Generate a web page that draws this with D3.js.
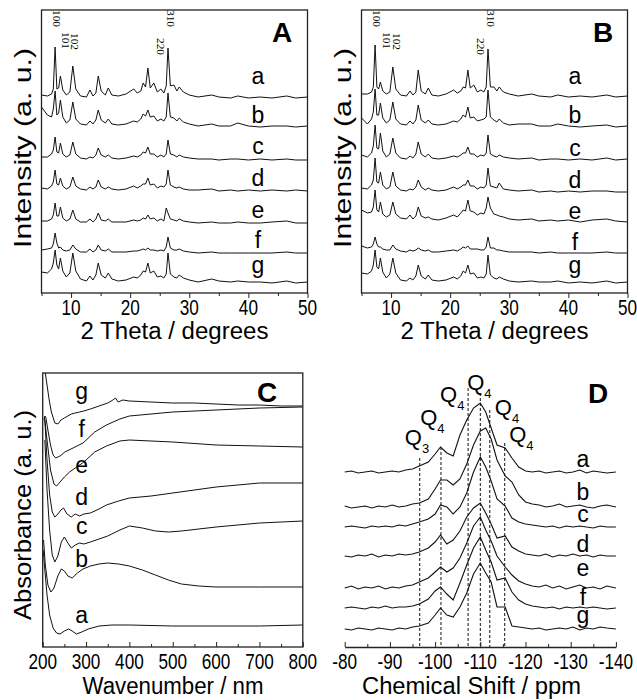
<!DOCTYPE html>
<html>
<head>
<meta charset="utf-8">
<script src="https://cdn.jsdelivr.net/npm/d3@7"></script>
<style>
  body { margin: 0; background: #fff; }
  svg { display: block; }
</style>
</head>
<body>
<svg id="fig" width="637" height="700"></svg>
<script>
// ---------- data ----------
const sampleNames = ["a", "b", "c", "d", "e", "f", "g"];

// XRD, 2 theta grid (degrees) and intensities above each trace's baseline (a.u.)
const twoTheta = [5, 6, 6.7, 7.0, 7.3, 7.6, 7.9, 8.2, 8.6, 9.2, 9.8, 10.3, 10.8, 11.6, 12.6,
  13.2, 13.7, 14.2, 14.6, 15.1, 15.8, 16.3, 16.9, 18, 19.3, 20.6, 21.2, 21.8, 22.2, 22.6,
  23.0, 23.4, 24.0, 24.6, 25.2, 25.7, 26.1, 26.4, 26.8, 27.4, 27.9, 28.3, 29, 30, 31.5,
  33.8, 35, 37, 38.2, 40, 42, 44, 46.5, 48, 50];

const xrdA = [
  [3,2,4,9,51, 9,10,22,8,3, 6,32,9,2,1, 8,2,5,22,7, 3,10,3,2,4, 9,5,7,15,11, 30,10,15,6,9, 5,12,50,12,13, 7,11,6,3,1, 3,1,0,2,0, 1,0,2,0,1],
  [20,12,10,18,36, 12,14,27,10,4, 7,25,8,3,2, 6,3,7,17,7, 4,8,3,2,3, 6,5,8,13,11, 17,10,11,6,8, 6,10,34,10,9, 6,9,5,3,1, 3,1,1,4,1, 0,1,1,0,1],
  [3,3,6,10,23, 8,7,17,6,3, 5,18,6,2,1, 3,2,5,12,5, 3,5,2,1,2, 4,3,5,8,7, 13,6,6,3,5, 3,6,20,6,5, 3,5,3,2,1, 1,0,1,1,0, 1,0,1,0,0],
  [3,2,5,9,21, 7,6,13,5,2, 4,14,5,2,1, 4,2,4,11,4, 2,4,2,1,2, 5,3,5,7,7, 13,6,7,3,5, 4,7,21,6,4, 3,4,2,1,1, 2,0,1,0,1, 0,1,0,1,0],
  [2,2,4,8,20, 7,7,16,5,2, 4,13,4,1,1, 4,1,4,10,3, 2,4,1,1,1, 3,2,3,5,4, 8,4,5,2,4, 2,15,10,4,3, 2,4,2,1,0, 1,0,0,1,0, 0,1,2,0,0],
  [3,4,5,9,20, 10,5,6,3,2, 3,8,4,1,1, 4,1,3,8,3, 2,4,1,1,1, 2,2,3,4,3, 5,3,3,2,3, 2,6,16,5,3, 3,4,2,1,0, 1,0,0,0,0, 0,0,1,0,0],
  [11,10,14,20,33, 18,14,25,12,6, 10,30,12,4,2, 7,3,8,20,8, 5,10,4,2,3, 6,5,8,12,11, 20,10,12,6,7, 5,9,30,9,6, 5,8,5,3,1, 4,2,1,2,1, 1,0,2,0,1]
];
const xrdAOffsets = [195, 166, 133, 102, 70, 40, 10];

const xrdB = [
  [3,3,5,10,52, 10,8,15,6,3, 5,30,8,2,1, 6,2,5,27,6, 3,9,2,1,3, 7,4,6,10,9, 27,9,12,5,7, 5,10,48,10,10, 6,10,5,3,1, 3,1,0,2,0, 1,0,2,0,1],
  [9,3,8,15,38, 12,12,24,9,4, 7,25,8,3,2, 6,3,7,22,7, 4,7,3,2,3, 6,5,8,12,10, 20,9,10,6,7, 8,10,37,10,7, 5,8,4,2,3, 3,1,1,3,1, 0,1,2,0,1],
  [5,3,7,14,35, 12,11,27,9,3, 6,22,7,2,1, 4,2,6,18,6, 3,6,2,1,2, 4,3,5,7,7, 13,6,6,3,5, 4,7,25,6,4, 3,5,3,2,1, 2,0,1,1,0, 1,0,2,0,1],
  [4,3,7,12,34, 10,9,20,7,3, 5,20,6,2,1, 3,2,5,12,5, 2,4,2,1,2, 5,3,5,7,7, 12,6,6,3,5, 4,7,24,6,5, 4,9,3,2,1, 2,0,1,0,1, 0,1,1,0,0],
  [12,9,10,15,32, 12,10,20,8,5, 7,20,8,4,3, 7,3,6,15,6, 4,5,3,2,4, 7,5,9,12,11, 22,11,10,7,9, 8,14,25,14,8, 7,6,5,3,2, 3,1,2,1,2, 0,2,3,1,0],
  [7,5,6,9,16, 9,6,6,4,3, 3,8,4,2,1, 3,2,3,5,3, 2,3,1,1,2, 3,2,4,6,5, 7,4,4,4,3, 3,6,16,5,5, 3,3,2,1,1, 1,0,1,0,0, 0,0,1,0,0],
  [10,9,12,18,33, 16,14,25,11,5, 9,25,10,3,2, 5,3,7,18,7, 4,8,3,2,3, 6,4,7,12,10, 18,9,10,5,6, 5,9,28,8,5, 4,6,4,2,1, 2,1,1,2,0, 1,0,2,0,1]
];
const xrdBOffsets = [196, 166, 133, 101, 71, 40, 10];

// reflection labels: [text, 2theta, intensity of label top]
const peaksA = [["100", 7.5, 283], ["101", 9.0, 261], ["102", 10.5, 260], ["220", 25.1, 255], ["310", 26.9, 283]];
const peaksB = [["100", 7.6, 283], ["101", 9.3, 261], ["102", 11.0, 260], ["220", 25.2, 255], ["310", 26.8, 283]];

// UV-vis, [wavelength nm, absorbance a.u.] for a..g
const uvC = [
  [[201,0.95],[205,0.75],[210,0.50],[216,0.30],[224,0.17],[232,0.12],[240,0.11],[250,0.14],[260,0.16],[268,0.14],[278,0.11],[290,0.13],[305,0.16],[330,0.19],[360,0.20],[400,0.20],[500,0.19],[600,0.19],[700,0.19],[800,0.20]],
  [[202,1.05],[206,0.80],[212,0.60],[219,0.53],[226,0.57],[235,0.69],[243,0.76],[250,0.74],[258,0.69],[268,0.67],[280,0.72],[293,0.76],[310,0.79],[330,0.81],[350,0.82],[375,0.81],[400,0.79],[430,0.75],[460,0.70],[490,0.65],[520,0.61],[560,0.59],[600,0.58],[700,0.58],[800,0.58]],
  [[205,2.05],[210,1.55],[216,1.15],[222,0.90],[228,0.83],[235,0.89],[243,1.03],[250,1.08],[258,1.02],[266,0.97],[275,1.00],[285,1.02],[295,1.01],[310,1.03],[330,1.06],[350,1.09],[378,1.15],[400,1.19],[430,1.17],[460,1.14],[490,1.13],[520,1.14],[560,1.16],[600,1.18],[650,1.20],[700,1.22],[750,1.23],[800,1.24]],
  [[205,2.25],[210,1.85],[216,1.50],[222,1.33],[228,1.28],[235,1.31],[242,1.35],[248,1.37],[256,1.31],[266,1.28],[275,1.31],[285,1.29],[295,1.31],[310,1.32],[330,1.36],[347,1.40],[375,1.44],[400,1.47],[450,1.49],[500,1.52],[550,1.55],[600,1.58],[650,1.60],[700,1.62],[750,1.62],[800,1.62]],
  [[204,2.28],[210,2.05],[218,1.75],[226,1.61],[232,1.59],[240,1.63],[250,1.68],[262,1.73],[275,1.77],[285,1.80],[292,1.82],[300,1.85],[320,1.93],[347,1.99],[378,2.04],[400,2.05],[450,2.04],[500,2.03],[600,2.00],[700,1.99],[800,1.98]],
  [[203,2.25],[205,2.29],[207,2.28],[212,2.15],[218,2.00],[224,1.90],[230,1.87],[240,1.89],[251,1.93],[270,1.97],[293,2.02],[320,2.13],[347,2.20],[378,2.26],[400,2.29],[450,2.31],[500,2.33],[600,2.35],[700,2.37],[800,2.38]],
  [[203,3.00],[206,2.72],[210,2.60],[215,2.45],[220,2.33],[228,2.22],[235,2.21],[242,2.25],[250,2.27],[258,2.29],[266,2.31],[275,2.32],[285,2.33],[295,2.34],[310,2.36],[330,2.39],[350,2.42],[362,2.45],[368,2.47],[374,2.43],[385,2.45],[400,2.44],[450,2.43],[500,2.42],[550,2.42],[600,2.41],[650,2.40],[700,2.40],[750,2.39],[800,2.39]]
];

// 29Si NMR, chemical shift grid (ppm) and intensities above baseline (a.u.)
const shiftPpm = [-80, -81.5, -83, -84.5, -86, -87.5, -89, -90.5, -92, -93.5, -95,
  -96.5, -98.5, -100, -101.2, -102.6, -104, -105.5, -107, -108.5, -110, -111.2, -112.4, -113.7, -115.5, -117, -118.5, -120,
  -121.5, -123, -124.5, -126, -127.5, -129, -130.5, -132, -133.5, -135, -136.5, -138, -140];
const nmrD = [
  [0,1,-1,0,1,-1,0,1,0,2,3, 6,10,18,25,19,16,37,52,64,69,60,44,27,24,14,5,1, 0,1,-1,0,1,-1,0,2,-1,1,0,-1,0],
  [1,-1,0,1,-1,1,0,2,0,1,3, 4,8,18,27,27,22,28,43,62,76,79,68,47,31,25,12,5, 3,2,0,1,3,0,1,2,0,-1,1,2,0],
  [0,1,0,-1,1,0,1,0,2,1,3, 5,8,13,22,20,13,20,34,55,70,60,46,28,21,9,5,3, 2,1,0,1,-1,1,0,1,0,-1,1,0,0],
  [0,-1,1,0,2,-1,1,0,2,1,2, 4,8,14,21,12,16,25,39,48,53,43,32,18,20,9,5,2, 1,0,2,-1,1,0,2,0,1,-1,1,0,0],
  [0,2,-1,1,0,2,-1,1,0,2,3, 6,10,16,21,16,20,30,45,62,71,58,47,32,21,13,7,4, 2,1,3,0,2,-1,1,3,0,1,-1,2,0],
  [0,1,0,-1,1,0,2,0,1,1,2, 4,9,17,21,14,8,25,43,60,71,58,46,28,30,16,8,4, 2,1,0,1,-1,1,0,1,0,1,0,-1,0],
  [0,-1,1,0,-1,1,0,-1,1,0,2, 3,6,14,21,14,12,22,36,55,66,56,47,22,22,3,2,1, 0,1,-1,0,1,0,2,-1,1,0,2,1,0]
];
const nmrOffsets = [175, 140, 120, 91, 59, 39, 18];

// dashed guide lines: [ppm, top intensity]
const guideLines = [[-96.6, 189], [-101.3, 200], [-107.3, 259], [-110, 254], [-112.1, 237], [-115.4, 204]];
// Q labels: [subscript, ppm of left edge, intensity of baseline]
const qLabels = [["3", -93.3, 202], ["4", -96.7, 222], ["4", -101.1, 245], ["4", -107.1, 257], ["4", -113.2, 232], ["4", -116.4, 205]];

// ---------- drawing ----------
const SANS = '"Liberation Sans", Arial, sans-serif';
const SERIF = '"Liberation Serif", "Times New Roman", serif';
const svg = d3.select("#fig");

function put(g, x, y, str, size, opt = {}) {
  let tf = `translate(${x},${y})`;
  if (opt.rot) tf += ` rotate(${opt.rot})`;
  if (opt.sx) tf += ` scale(${opt.sx},1)`;
  const t = g.append("text")
    .attr("transform", tf)
    .attr("font-size", size)
    .attr("font-family", opt.family || SANS)
    .attr("font-weight", opt.bold ? "bold" : null)
    .attr("text-anchor", opt.anchor || "middle")
    .attr("fill", "#000")
    .text(str);
  if (opt.len) t.attr("textLength", opt.len).attr("lengthAdjust", "spacingAndGlyphs");
  if (opt.dy) t.attr("dy", opt.dy);
  return t;
}

function ticks(g, scale, y, major, minor, dir) {
  g.append("g").attr("transform", `translate(0,${y})`)
    .call(d3.axisBottom(scale).tickValues(major).tickSize(5 * dir).tickFormat(""))
    .call(a => a.select(".domain").remove());
  g.append("g").attr("transform", `translate(0,${y})`)
    .call(d3.axisBottom(scale).tickValues(minor).tickSize(3 * dir).tickFormat(""))
    .call(a => a.select(".domain").remove());
  g.selectAll(".tick line").attr("stroke", "#222");
}

function xrdPanel(p) {
  const g = svg.append("g");
  const x = d3.scaleLinear().domain([5, 50]).range([p.left, p.right]);
  const y = d3.scaleLinear().domain([0, 283]).range([p.bottom, p.top]);
  const line = d3.line().x((d, i) => x(twoTheta[i])).y(d => y(d));

  p.curves.forEach((c, i) => {
    g.append("path")
      .attr("d", line(c.map(v => v + p.offsets[i])))
      .attr("fill", "none").attr("stroke", "#111").attr("stroke-width", 1);
  });

  g.append("rect")
    .attr("x", p.left).attr("y", p.top)
    .attr("width", p.right - p.left).attr("height", p.bottom - p.top)
    .attr("fill", "none").attr("stroke", "#222").attr("stroke-width", 1.3);

  ticks(g, x, p.bottom, [10, 20, 30, 40, 50], [5, 15, 25, 35, 45], 1);
  [10, 20, 30, 40, 50].forEach(v => put(g, x(v), 315, v, 22, { sx: 0.78 }));

  p.peaks.forEach(([t, px, py]) =>
    put(g, x(px), y(py), t, 10, { rot: 90, anchor: "start", family: SERIF, dy: "0.35em", len: 17 }));

  sampleNames.forEach((s, i) => put(g, p.labelX, p.labelY[i], s, 23));
  put(g, p.letterX, 42, p.letter, 28, { bold: true });

  const midX = (p.left + p.right) / 2;
  put(g, midX - 94, 339, "2 Theta / degrees", 23, { anchor: "start", len: 188 });
  put(g, p.left - 11, 248, "Intensity (a. u.)", 24, { rot: -90, anchor: "start", len: 200 });
}

xrdPanel({
  left: 41.5, right: 307.5, top: 10, bottom: 293,
  curves: xrdA, offsets: xrdAOffsets, peaks: peaksA,
  labelX: 258, labelY: [84, 123, 154, 186, 218, 248, 273],
  letter: "A", letterX: 282
});
xrdPanel({
  left: 361.5, right: 627.5, top: 10, bottom: 293,
  curves: xrdB, offsets: xrdBOffsets, peaks: peaksB,
  labelX: 575, labelY: [84, 123, 156, 188, 219, 250, 273],
  letter: "B", letterX: 603
});

// ---- panel C: UV-vis ----
(function () {
  const left = 42.7, right = 302.8, top = 373, bottom = 647;
  const g = svg.append("g");
  const x = d3.scaleLinear().domain([200, 800]).range([left, right]);
  const y = d3.scaleLinear().domain([-0.02, 2.72]).range([bottom, top]);
  const line = d3.line().x(d => x(d[0])).y(d => y(d[1]));

  svg.append("clipPath").attr("id", "clipC")
    .append("rect").attr("x", left).attr("y", top).attr("width", right - left).attr("height", bottom - top);

  g.append("g").attr("clip-path", "url(#clipC)")
    .selectAll("path").data(uvC).join("path")
    .attr("d", line)
    .attr("fill", "none").attr("stroke", "#111").attr("stroke-width", 1);

  g.append("rect")
    .attr("x", left).attr("y", top).attr("width", right - left).attr("height", bottom - top)
    .attr("fill", "none").attr("stroke", "#222").attr("stroke-width", 1.3);

  const major = d3.range(200, 801, 100);
  ticks(g, x, bottom, major, d3.range(250, 800, 100), -1);
  major.forEach(v => put(g, x(v), 669, v, 22, { sx: 0.78 }));

  const labelY = [622.7, 566.7, 534.3, 505, 472.7, 436.7, 398.6];
  sampleNames.forEach((s, i) => put(g, 81.7, labelY[i], s, 23));
  put(g, 267, 402, "C", 28, { bold: true });

  put(g, 173 - 90.5, 694, "Wavenumber / nm", 23, { anchor: "start", len: 181 });
  put(g, 31, 620, "Absorbance (a. u.)", 24, { rot: -90, anchor: "start", len: 210 });
})();

// ---- panel D: 29Si NMR ----
(function () {
  const left = 344.7, right = 615.9, axisY = 647;
  const g = svg.append("g");
  const x = d3.scaleLinear().domain([-80, -140]).range([left, right]);
  const y = d3.scaleLinear().domain([0, 270]).range([axisY, axisY - 270]);
  const line = d3.line().x((d, i) => x(shiftPpm[i])).y(d => y(d));

  guideLines.forEach(([ppm, topV]) => {
    g.append("line")
      .attr("x1", x(ppm)).attr("x2", x(ppm))
      .attr("y1", y(topV)).attr("y2", y(0))
      .attr("stroke", "#111").attr("stroke-width", 1).attr("stroke-dasharray", "3,2");
  });

  nmrD.forEach((c, i) => {
    g.append("path")
      .attr("d", line(c.map(v => v + nmrOffsets[i])))
      .attr("fill", "none").attr("stroke", "#111").attr("stroke-width", 1.1);
  });

  const axis = g.append("g").attr("transform", `translate(0,${axisY})`)
    .call(d3.axisBottom(x).tickValues(d3.range(-80, -141, -10)).tickSize(-5).tickSizeOuter(0).tickFormat(""));
  axis.select(".domain").attr("stroke", "#222").attr("stroke-width", 1.3);
  g.append("g").attr("transform", `translate(0,${axisY})`)
    .call(d3.axisBottom(x).tickValues(d3.range(-85, -140, -10)).tickSize(-3).tickFormat(""))
    .call(a => a.select(".domain").remove());
  g.selectAll(".tick line").attr("stroke", "#222");

  d3.range(-80, -141, -10).forEach(v => put(g, x(v), 669, v, 22, { sx: 0.78 }));

  qLabels.forEach(([sub, ppm, v]) => {
    const t = put(g, x(ppm), y(v), "Q", 22, { anchor: "start" });
    t.append("tspan").attr("dy", 8).attr("font-size", 13).text(sub);
  });

  const labelY = [466.8, 500, 521.8, 551.7, 576, 605, 622.6];
  sampleNames.forEach((s, i) => put(g, 583, labelY[i], s, 23));
  put(g, 598, 403, "D", 28, { bold: true });

  put(g, 471.5 - 109.5, 694, "Chemical Shift / ppm", 23, { anchor: "start", len: 219 });
})();
</script>
</body>
</html>
